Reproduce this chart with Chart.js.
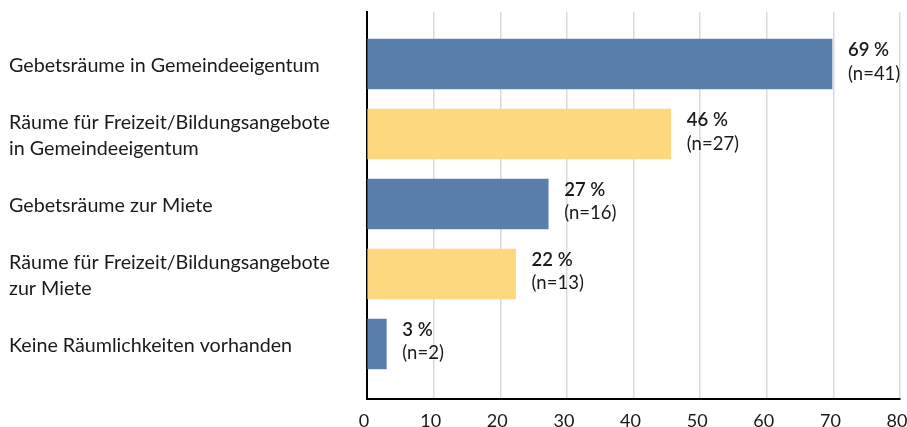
<!DOCTYPE html>
<html>
<head>
<meta charset="utf-8">
<script src="https://cdn.jsdelivr.net/npm/chart.js@4.4.1/dist/chart.umd.min.js"></script>
<style>
  html, body { margin: 0; padding: 0; background: #fff; }
  #wrap { width: 907px; height: 427px; position: relative; }
</style>
</head>
<body>
<div id="wrap"><canvas id="roomChart"></canvas></div>
<script>
// categories and values
const categories = [
  "Gebetsräume in Gemeindeeigentum",
  ["Räume für Freizeit/Bildungsangebote", "in Gemeindeeigentum"],
  "Gebetsräume zur Miete",
  ["Räume für Freizeit/Bildungsangebote", "zur Miete"],
  "Keine Räumlichkeiten vorhanden"
];
const shares = [69.8, 45.6, 27.2, 22.3, 2.9];
const pctLabels = ["69 %", "46 %", "27 %", "22 %", "3 %"];
const counts = [41, 27, 16, 13, 2];
const xTicks = [0, 10, 20, 30, 40, 50, 60, 70, 80];

const BLUE = "#5a7eab";
const YELLOW = "#fed87e";
const barColors = [BLUE, YELLOW, BLUE, YELLOW, BLUE];
const FONT = "Lato";

// percentage + n next to each bar end
const valueLabels = {
  id: "valueLabels",
  afterDatasetsDraw(chart) {
    let ctx = chart.ctx;
    let meta = chart.getDatasetMeta(0);
    ctx.save();
    ctx.fillStyle = "#1a1a1a";
    ctx.textAlign = "left";
    ctx.textBaseline = "alphabetic";
    meta.data.forEach((bar, i) => {
      let x = bar.x + 16;
      ctx.font = "600 18.5px " + FONT;
      ctx.fillText(pctLabels[i], x, bar.y - 8);
      ctx.font = "18.5px " + FONT;
      ctx.fillText("(n=" + counts[i] + ")", x, bar.y + 15.5);
    });
    ctx.restore();
  }
};

new Chart(document.getElementById("roomChart"), {
  type: "bar",
  data: {
    labels: categories,
    datasets: [{
      data: shares,
      backgroundColor: barColors,
      barThickness: 50
    }]
  },
  options: {
    indexAxis: "y",
    responsive: true,
    maintainAspectRatio: false,
    animation: false,
    layout: { padding: { left: 9, right: 7, top: 12, bottom: 0 } },
    plugins: { legend: { display: false }, tooltip: { enabled: false } },
    scales: {
      x: {
        min: 0,
        max: 80,
        afterBuildTicks: (scale) => { scale.ticks = xTicks.map(v => ({ value: v })); },
        afterFit: (scale) => {
          scale.height = 28;
          scale.paddingLeft = 0;
          scale.paddingRight = 0;
        },
        grid: { color: "#dadada", lineWidth: 1.5, drawTicks: false },
        border: { color: "#000", width: 2 },
        ticks: { color: "#1a1a1a", padding: 11, labelOffset: -3, font: { family: FONT, size: 18 } }
      },
      y: {
        // spread categories 70px apart like the reference, leaving room above and below
        afterBuildTicks: (scale) => { scale._startValue = -0.743; scale._valueRange = 5.529; },
        afterFit: (scale) => {
          scale.width = 358;
          scale.paddingTop = 0;
          scale.paddingBottom = 0;
        },
        grid: { display: false },
        border: { color: "#000", width: 2 },
        ticks: {
          color: "#1a1a1a",
          crossAlign: "far",
          labelOffset: 1.5,
          font: { family: FONT, size: 19.7, lineHeight: "26px" }
        }
      }
    }
  },
  plugins: [valueLabels]
});
</script>
</body>
</html>
